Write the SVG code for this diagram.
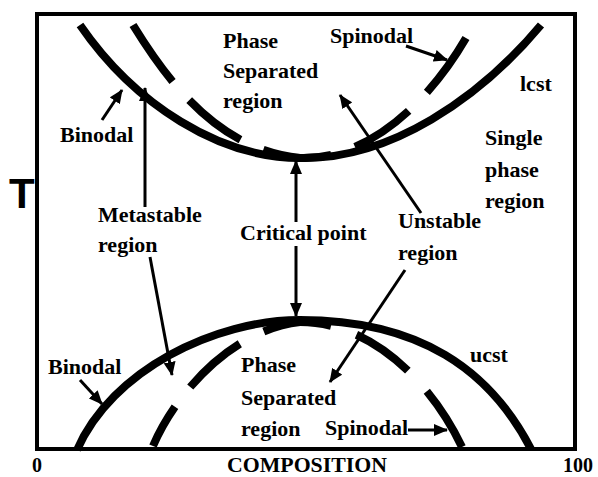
<svg xmlns="http://www.w3.org/2000/svg" width="598" height="477" viewBox="0 0 598 477">
<style>
.lbl{font-family:"Liberation Serif","Times New Roman",serif;font-weight:bold;font-size:22px;fill:#000}
.ax{font-family:"Liberation Serif","Times New Roman",serif;font-weight:bold;font-size:20px;fill:#000}
.curve{fill:none;stroke:#000;stroke-width:8}
.arr{fill:none;stroke:#000;stroke-width:3}
</style>
<defs>
<marker id="ah" markerUnits="userSpaceOnUse" markerWidth="14" markerHeight="12" refX="13" refY="6" orient="auto">
<path d="M0,0 L14,6 L0,12 Z" fill="#000"/>
</marker>
</defs>
<rect width="598" height="477" fill="#fff"/>
<g id="frame">
<rect x="37" y="14" width="538" height="435" fill="none" stroke="#000" stroke-width="4"/>
</g>
<g id="curves">
<path id="lcst-binodal" class="curve" d="M80,25 C135,105 220,158 300,158 C390,160 480,98 541,25"/>
<path id="lcst-spinodal-left" class="curve" d="M133,25 C170,85 220,150 300,158" stroke-dasharray="69 25 65 25 80"/>
<path id="lcst-spinodal-right" class="curve" d="M466,38 C430,100 370,160 300,158" stroke-dasharray="67 26 65 25 80"/>
<path id="ucst-binodal" class="curve" d="M77,450 C112,370 215,320 300,320 C420,320 490,370 531,449"/>
<path id="ucst-spinodal-left" class="curve" d="M153,446 C175,395 230,330 300,322" stroke-dasharray="45 25 66 27 80"/>
<path id="ucst-spinodal-right" class="curve" d="M462,447 C430,380 370,322 300,322" stroke-dasharray="66 28 63 27 80"/>
</g>
<g id="connectors">
<line class="arr" x1="102" y1="120" x2="122" y2="90" marker-end="url(#ah)"/>
<line class="arr" x1="145" y1="207" x2="145" y2="88" marker-end="url(#ah)"/>
<line class="arr" x1="150" y1="257" x2="172" y2="375" marker-end="url(#ah)"/>
<line class="arr" x1="296" y1="222" x2="296" y2="161" marker-end="url(#ah)"/>
<line class="arr" x1="296" y1="246" x2="296" y2="316" marker-end="url(#ah)"/>
<line class="arr" x1="421" y1="213" x2="340" y2="95" marker-end="url(#ah)"/>
<line class="arr" x1="405" y1="270" x2="330" y2="382" marker-end="url(#ah)"/>
<line class="arr" x1="406" y1="46" x2="447" y2="60" marker-end="url(#ah)"/>
<line class="arr" x1="80" y1="380" x2="102" y2="404" marker-end="url(#ah)"/>
<line class="arr" x1="408" y1="430" x2="447" y2="430" marker-end="url(#ah)"/>
</g>
<g id="label-phase-upper"><text class="lbl" x="223" y="48">Phase</text><text class="lbl" x="223" y="78">Separated</text><text class="lbl" x="223" y="108">region</text></g>
<g id="label-spinodal-upper"><text class="lbl" x="330" y="43">Spinodal</text></g>
<g id="label-lcst"><text class="lbl" x="520" y="91">lcst</text></g>
<g id="label-binodal-upper"><text class="lbl" x="60" y="142">Binodal</text></g>
<g id="label-single"><text class="lbl" x="485" y="145">Single</text><text class="lbl" x="485" y="177">phase</text><text class="lbl" x="485" y="208">region</text></g>
<g id="label-metastable"><text class="lbl" x="98" y="222">Metastable</text><text class="lbl" x="98" y="252">region</text></g>
<g id="label-critical"><text class="lbl" x="240" y="240">Critical point</text></g>
<g id="label-unstable"><text class="lbl" x="398" y="228">Unstable</text><text class="lbl" x="398" y="260">region</text></g>
<g id="label-binodal-lower"><text class="lbl" x="48" y="374">Binodal</text></g>
<g id="label-phase-lower"><text class="lbl" x="241" y="372">Phase</text><text class="lbl" x="241" y="405">Separated</text><text class="lbl" x="241" y="436">region</text></g>
<g id="label-ucst"><text class="lbl" x="470" y="362">ucst</text></g>
<g id="label-spinodal-lower"><text class="lbl" x="325" y="435">Spinodal</text></g>
<g id="axis-labels">
<text class="ax" x="32" y="472">0</text>
<text class="ax" x="227" y="472" textLength="160" lengthAdjust="spacingAndGlyphs">COMPOSITION</text>
<text class="ax" x="563" y="472">100</text>
<text x="9" y="208" font-family="Liberation Sans, Arial, sans-serif" font-weight="bold" font-size="42">T</text>
</g>
</svg>
